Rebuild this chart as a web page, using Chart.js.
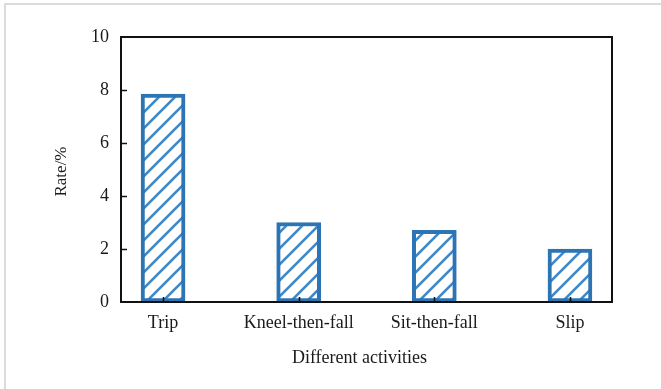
<!DOCTYPE html>
<html>
<head>
<meta charset="utf-8">
<script src="https://cdn.jsdelivr.net/npm/chart.js@4/dist/chart.umd.min.js"></script>
<style>
  html, body { margin: 0; padding: 0; background: #fff; }
  #wrap { width: 661px; height: 389px; position: relative; }
</style>
</head>
<body>
<div id="wrap"><canvas id="c" width="661" height="389"></canvas></div>
<script>
// Fall rates by activity type
const categories = ['Trip', 'Kneel-then-fall', 'Sit-then-fall', 'Slip'];
const rates = [7.85, 3.0, 2.7, 2.0];
const yTicks = [0, 2, 4, 6, 8, 10];
const xTitle = 'Different activities';
const yTitle = 'Rate/%';

const BLUE = '#2c74b3';
const INK = '#1a1a1a';
const SERIF = '"Liberation Serif", "DejaVu Serif", serif';

// diagonal hatch fill for the bars
function makeHatch() {
  const s = 16;
  const p = document.createElement('canvas');
  p.width = s; p.height = s;
  const g = p.getContext('2d');
  g.fillStyle = '#ffffff';
  g.fillRect(0, 0, s, s);
  g.strokeStyle = '#3d88c8';
  g.lineWidth = 2.6;
  g.lineCap = 'square';
  g.beginPath();
  g.moveTo(0, s); g.lineTo(s, 0);
  g.moveTo(-s / 2, s / 2); g.lineTo(s / 2, -s / 2);
  g.moveTo(s / 2, s + s / 2); g.lineTo(s + s / 2, s / 2);
  g.stroke();
  return g.createPattern(p, 'repeat');
}

const ctx0 = document.getElementById('c').getContext('2d');
const hatch = makeHatch();

// page background with thin grey edge lines
const pageBg = {
  id: 'pageBg',
  beforeDraw(chart) {
    const c = chart.ctx;
    c.save();
    c.fillStyle = '#fff';
    c.fillRect(0, 0, chart.width, chart.height);
    c.fillStyle = '#dcdcdc';
    c.fillRect(4, 3, chart.width - 4, 2);
    c.fillRect(4, 3, 2, chart.height - 3);
    c.restore();
  }
};

// closed black frame, inward tick marks and axis titles
const frame = {
  id: 'frame',
  afterDraw(chart) {
    const { left, right, top, bottom } = chart.chartArea;
    const c = chart.ctx;
    const y = chart.scales.y, x = chart.scales.x;
    c.save();
    c.strokeStyle = '#111';
    c.lineWidth = 2;
    c.strokeRect(left, top, right - left, bottom - top);
    c.lineWidth = 1.6;
    c.beginPath();
    yTicks.forEach(v => {
      if (v === 0 || v === 10) return;
      const py = Math.round(y.getPixelForValue(v)) + 0.5;
      c.moveTo(left, py); c.lineTo(left + 6, py);
    });
    categories.forEach((_, i) => {
      const px = Math.round(x.getPixelForValue(i)) + 0.5;
      c.moveTo(px, bottom); c.lineTo(px, bottom - 5);
    });
    c.stroke();

    c.fillStyle = INK;
    c.textAlign = 'center';
    c.textBaseline = 'alphabetic';
    c.font = '18px ' + SERIF;
    c.fillText(xTitle, (left + right) / 2 - 7, 363);
    c.translate(66, (top + bottom) / 2 + 2);
    c.rotate(-Math.PI / 2);
    c.font = '17px ' + SERIF;
    c.fillText(yTitle, 0, 0);
    c.restore();
  }
};

new Chart(ctx0, {
  type: 'bar',
  data: {
    datasets: [{
      data: rates.map((v, i) => ({ x: i, y: v })),
      backgroundColor: hatch,
      borderColor: BLUE,
      borderWidth: 4,
      borderSkipped: false,
      barThickness: 44
    }]
  },
  options: {
    responsive: false,
    animation: false,
    devicePixelRatio: 1,
    layout: { padding: { left: 0, top: 37, right: 49, bottom: 0 } },
    plugins: { legend: { display: false }, tooltip: { enabled: false } },
    scales: {
      x: {
        type: 'linear',
        offset: false,
        min: -0.31,
        max: 3.31,
        afterBuildTicks(scale) { scale.ticks = categories.map((_, i) => ({ value: i })); },
        afterFit(scale) { scale.height = 87; },
        grid: { display: false, drawTicks: false },
        border: { display: false },
        ticks: {
          autoSkip: false,
          maxRotation: 0,
          padding: 10,
          color: INK,
          font: { family: SERIF, size: 18 },
          callback: v => categories[v]
        }
      },
      y: {
        min: 0,
        max: 10,
        afterBuildTicks(scale) { scale.ticks = yTicks.map(v => ({ value: v })); },
        afterFit(scale) { scale.width = 121; },
        grid: { display: false, drawTicks: false },
        border: { display: false },
        ticks: {
          padding: 12,
          color: INK,
          font: { family: SERIF, size: 18 }
        }
      }
    }
  },
  plugins: [pageBg, frame]
});
</script>
</body>
</html>
